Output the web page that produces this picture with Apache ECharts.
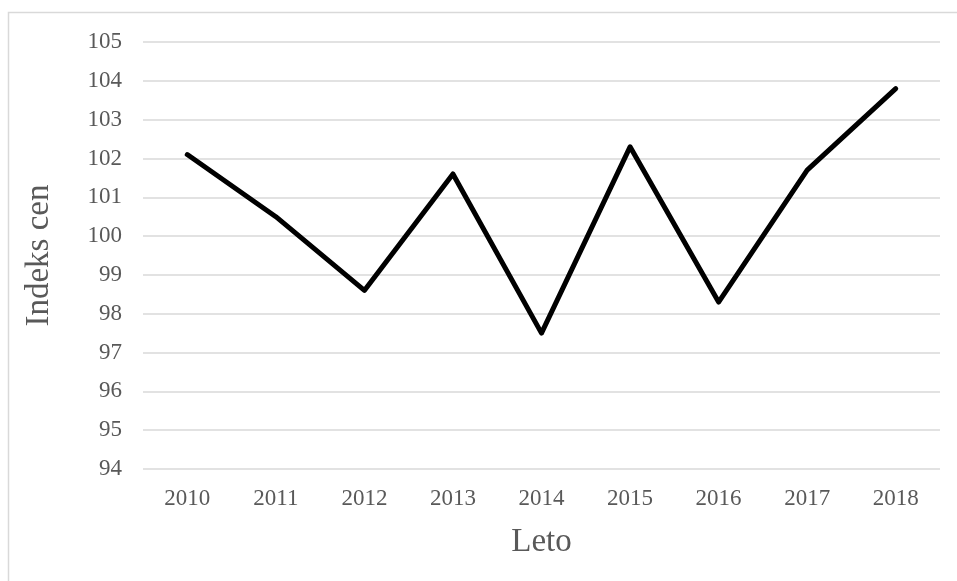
<!DOCTYPE html>
<html>
<head>
<meta charset="utf-8">
<script src="https://cdn.jsdelivr.net/npm/echarts@6/dist/echarts.min.js"></script>
<style>
  html, body { margin: 0; padding: 0; background: #fff; }
  #chart { width: 957px; height: 581px; }
</style>
</head>
<body>
<div id="chart"></div>
<script>
// Price index by year
const years = ['2010', '2011', '2012', '2013', '2014', '2015', '2016', '2017', '2018'];
const priceIndex = [102.1, 100.5, 98.6, 101.6, 97.5, 102.3, 98.3, 101.7, 103.8];
const yMin = 94;
const yMax = 105;

const serif = '"Liberation Serif", "Times New Roman", serif';
const textColor = '#595959';

const chart = echarts.init(document.getElementById('chart'));
chart.setOption({
  backgroundColor: '#fff',
  animation: false,
  graphic: [{
    type: 'rect',
    left: 6,
    top: 10,
    shape: { width: 960, height: 580 },
    style: { fill: 'none', stroke: '#d9d9d9', lineWidth: 1.5 },
    silent: true
  }],
  grid: { left: 143, right: 17, top: 42, bottom: 112 },
  xAxis: {
    type: 'category',
    data: years,
    boundaryGap: true,
    name: 'Leto',
    nameLocation: 'middle',
    nameGap: 57,
    nameTextStyle: { fontFamily: serif, fontSize: 33, color: textColor },
    axisLine: { show: false },
    axisTick: { show: false },
    axisLabel: { fontFamily: serif, fontSize: 23, color: textColor, margin: 18 }
  },
  yAxis: {
    type: 'value',
    min: yMin,
    max: yMax,
    interval: 1,
    name: 'Indeks cen',
    nameLocation: 'middle',
    nameGap: 87,
    nameTextStyle: { fontFamily: serif, fontSize: 33, color: textColor },
    axisLine: { show: false },
    axisTick: { show: false },
    axisLabel: { fontFamily: serif, fontSize: 23, color: textColor, margin: 21 },
    splitLine: { lineStyle: { color: '#d9d9d9', width: 1.5 } }
  },
  series: [{
    type: 'line',
    data: priceIndex,
    showSymbol: false,
    symbol: 'none',
    lineStyle: { color: '#000', width: 5, cap: 'round', join: 'round' }
  }]
});
</script>
</body>
</html>
